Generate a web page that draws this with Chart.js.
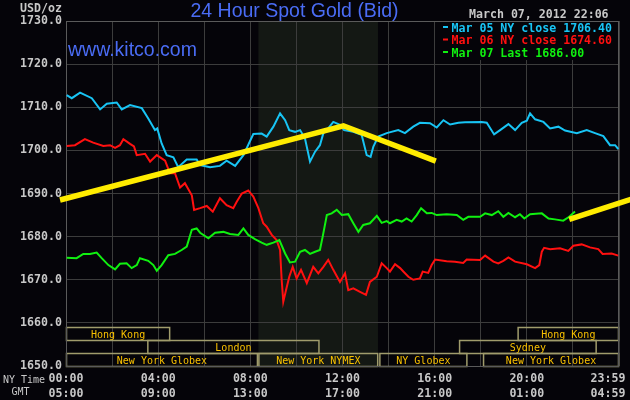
<!DOCTYPE html>
<html>
<head>
<meta charset="utf-8">
<script src="https://cdn.jsdelivr.net/npm/chart.js@4/dist/chart.umd.min.js"></script>
<style>
html,body{margin:0;padding:0;background:#050409;}
canvas{display:block;}
</style>
</head>
<body>
<canvas id="gold" width="630" height="400"></canvas>
<script>
// hours since 00:00 NY time, bid in USD/oz
var mar05Hours=[0.03,0.25,0.61,1.12,1.48,1.77,2.20,2.42,2.78,3.29,3.57,3.86,3.96,4.15,4.37,4.66,4.87,5.24,5.67,5.82,6.25,6.68,6.97,7.34,7.70,8.13,8.49,8.71,9.00,9.29,9.51,9.69,9.94,10.16,10.37,10.59,10.81,11.02,11.17,11.38,11.60,11.89,12.07,12.47,12.83,13.05,13.22,13.34,13.55,13.92,14.42,14.71,15.07,15.36,15.80,16.09,16.38,16.67,17.03,17.32,18.04,18.26,18.58,18.84,19.20,19.49,19.78,20.00,20.14,20.36,20.72,21.01,21.37,21.66,22.17,22.60,22.96,23.32,23.61,23.83,23.97];
var mar05Values=[1712.8,1712.1,1713.4,1712.1,1709.5,1710.8,1711.1,1709.5,1710.5,1709.8,1707.4,1704.7,1705.1,1701.6,1698.9,1698.4,1696.1,1697.9,1697.9,1696.6,1696.1,1696.4,1697.6,1696.4,1698.9,1703.8,1703.9,1703.2,1705.5,1708.6,1707.0,1704.7,1704.3,1704.7,1702.8,1697.4,1699.7,1701.2,1704.0,1705.1,1706.6,1705.9,1704.7,1704.3,1703.6,1698.9,1698.5,1700.9,1703.2,1704.0,1704.7,1704.0,1705.5,1706.4,1706.3,1705.3,1707.0,1706.0,1706.4,1706.5,1706.6,1706.4,1703.7,1704.7,1706.1,1704.7,1706.4,1706.9,1708.6,1707.2,1706.6,1705.1,1705.5,1704.6,1704.0,1704.7,1704.0,1703.3,1701.2,1701.2,1700.3];

var mar06Hours=[0.03,0.39,0.82,1.18,1.62,1.91,2.13,2.34,2.49,2.78,2.95,3.07,3.43,3.65,3.94,4.30,4.51,4.73,4.95,5.16,5.46,5.56,5.82,6.11,6.37,6.68,6.97,7.26,7.41,7.63,7.91,8.13,8.35,8.56,8.71,8.93,9.14,9.29,9.36,9.43,9.55,9.69,9.84,10.01,10.20,10.45,10.73,10.95,11.17,11.38,11.60,11.89,12.11,12.25,12.47,12.76,13.02,13.19,13.49,13.70,13.92,14.06,14.28,14.50,14.64,14.86,15.07,15.36,15.48,15.72,15.87,16.02,16.52,16.88,17.24,17.39,17.97,18.19,18.55,18.76,18.98,19.20,19.49,20.00,20.36,20.54,20.65,20.75,21.01,21.44,21.80,22.02,22.38,22.74,23.10,23.29,23.68,23.97];
var mar06Values=[1701.0,1701.2,1702.6,1701.8,1701.0,1701.2,1700.6,1701.2,1702.6,1701.5,1700.9,1698.9,1699.2,1697.4,1698.9,1697.6,1694.7,1694.7,1691.4,1692.4,1689.6,1686.2,1686.6,1687.1,1685.8,1688.9,1687.3,1686.6,1688.1,1690.0,1690.7,1689.3,1686.6,1683.1,1682.3,1680.4,1679.2,1676.9,1670.0,1664.9,1667.6,1670.7,1673.0,1670.3,1672.3,1669.2,1673.0,1671.5,1673.0,1674.6,1672.3,1669.5,1671.5,1667.6,1668.0,1667.2,1666.5,1669.5,1670.7,1673.8,1672.7,1671.9,1673.6,1672.7,1671.9,1670.7,1670.0,1670.3,1671.9,1671.6,1673.4,1674.7,1674.3,1674.2,1673.9,1674.7,1674.6,1675.6,1674.2,1673.8,1674.4,1675.2,1674.2,1673.6,1672.7,1673.4,1676.5,1677.4,1677.1,1677.3,1676.7,1677.9,1678.2,1677.5,1677.1,1676.0,1676.1,1675.6];

var mar07Hours=[0.03,0.46,0.75,1.04,1.33,1.55,1.84,2.13,2.34,2.63,2.85,3.07,3.21,3.57,3.79,3.94,4.15,4.44,4.73,5.02,5.24,5.46,5.67,5.82,6.18,6.47,6.83,7.12,7.48,7.70,7.91,8.20,8.49,8.71,9.00,9.26,9.51,9.72,9.94,10.16,10.37,10.59,10.81,11.02,11.14,11.32,11.53,11.75,11.97,12.25,12.47,12.69,12.90,13.19,13.49,13.70,13.92,14.06,14.35,14.57,14.78,15.00,15.22,15.41,15.66,15.87,16.09,16.52,16.96,17.24,17.46,17.97,18.19,18.48,18.76,18.98,19.20,19.49,19.70,19.89,20.14,20.65,20.94,21.22,21.58,21.84,22.09];
var mar07Values=[1675.1,1675.0,1676.0,1676.0,1676.3,1675.0,1673.4,1672.4,1673.7,1673.8,1672.7,1673.4,1675.0,1674.4,1673.4,1672.1,1673.4,1675.7,1676.0,1676.9,1677.7,1681.6,1681.9,1680.9,1679.6,1680.9,1681.1,1680.6,1680.4,1681.9,1680.4,1679.4,1678.6,1678.1,1678.6,1679.2,1676.1,1674.0,1674.2,1676.5,1676.9,1676.0,1676.5,1676.9,1680.0,1685.0,1685.4,1686.2,1685.0,1685.2,1683.1,1681.1,1682.7,1683.1,1684.8,1683.2,1683.6,1683.1,1683.9,1683.5,1684.2,1683.5,1685.0,1686.6,1685.4,1685.5,1685.0,1685.2,1685.0,1683.9,1684.6,1684.6,1685.4,1685.0,1685.9,1684.6,1685.5,1684.5,1685.2,1684.2,1685.2,1685.4,1684.2,1684.0,1683.7,1684.6,1685.8];

// hand drawn yellow trend lines
var trendAHours=[-0.26,12.04,16.05];
var trendAValues=[1688.5,1705.7,1697.5];
var trendBHours=[21.84,24.6];
var trendBValues=[1684.0,1688.8];

var legendTexts=["Mar 05 NY close 1706.40","Mar 06 NY close 1674.60","Mar 07 Last 1686.00"];
var tickHours=[0,4,8,12,16,20,24];
var nyTimeLabels=["00:00","04:00","08:00","12:00","16:00","20:00","23:59"];
var gmtLabels=["05:00","09:00","13:00","17:00","21:00","01:00","04:59"];

var sessionNames=["Hong Kong","London","New York Globex","New York NYMEX","NY Globex","Sydney","Hong Kong","New York Globex"];
var sessionStart=[0,3.53,0,8.35,13.6,17.06,19.6,18.1];
var sessionEnd=[4.52,11.0,8.33,13.55,17.42,23.03,24,24];
var sessionRow=[0,1,2,2,2,1,0,2];
var nymexOpen=8.35, nymexClose=13.54;

var cyan="#18c4f4", red="#ff1010", green="#10f010", yellow="#ffec00";
var mono="'DejaVu Sans Mono', monospace";

function pts(h,v){ var a=[]; for(var i=0;i<h.length;i++) a.push({x:h[i],y:v[i]}); return a; }

var kitcoPlugin={
	id:"kitco",
	beforeDraw:function(chart){
		var c=chart.ctx, a=chart.chartArea, x=chart.scales.x;
		c.save();
		c.fillStyle="#050409";
		c.fillRect(0,0,chart.width,chart.height);
		c.fillStyle="#141814";
		c.fillRect(x.getPixelForValue(nymexOpen),a.top,x.getPixelForValue(nymexClose)-x.getPixelForValue(nymexOpen),a.bottom-a.top);
		c.restore();
	},
	beforeDatasetsDraw:function(chart){
		var c=chart.ctx, a=chart.chartArea, x=chart.scales.x;
		c.save();
		// session boxes
		c.strokeStyle="#a09c6c"; c.lineWidth=1.5;
		c.font="10px "+mono; c.textAlign="center"; c.textBaseline="alphabetic";
		for(var i=0;i<sessionNames.length;i++){
			var x0=x.getPixelForValue(sessionStart[i]), x1=x.getPixelForValue(sessionEnd[i]);
			var y0=a.bottom-13*(3-sessionRow[i]);
			c.strokeRect(x0+0.5,y0+0.5,x1-x0-1,13);
			c.fillStyle="#f8c000";
			c.fillText(sessionNames[i],(x0+x1)/2,y0+11);
		}
		// legend box
		c.fillStyle="#050409";
		c.fillRect(438,a.top+1,a.right-439,38);
		var cols=[cyan,red,green];
		c.font="bold 11.6px "+mono; c.textAlign="left";
		for(var j=0;j<3;j++){
			c.fillStyle=cols[j];
			c.fillRect(443,26+j*12.5,5,2);
			c.fillText(legendTexts[j],451.5,31.5+j*12.5);
		}
		// frame
		c.strokeStyle="#5a5a5a"; c.lineWidth=1;
		c.strokeRect(a.left+0.5,a.top+0.5,a.right-a.left-1,a.bottom-a.top);
		c.restore();
	},
	afterDraw:function(chart){
		var c=chart.ctx, x=chart.scales.x;
		c.save();
		c.fillStyle="#4a6cf4";
		c.font="19.5px 'Liberation Sans', Arial, sans-serif";
		c.textAlign="center";
		c.fillText("24 Hour Spot Gold (Bid)",294.5,17);
		c.textAlign="left";
		c.fillText("www.kitco.com",68,56);
		c.fillStyle="#c8c8c8";
		c.font="bold 11.6px "+mono;
		c.fillText("March 07, 2012 22:06",469,18);
		c.textAlign="right";
		c.fillText("USD/oz",62,11.5);
		c.textAlign="center";
		for(var i=0;i<tickHours.length;i++){
			var px=Math.min(x.getPixelForValue(tickHours[i]),608);
			c.fillText(nyTimeLabels[i],px,381.5);
			c.fillText(gmtLabels[i],px,396.5);
		}
		c.font="10px "+mono; c.textAlign="left";
		c.fillText("NY Time",3,383);
		c.fillText("GMT",11.5,395);
		c.restore();
	}
};

new Chart(document.getElementById("gold"),{
	type:"line",
	data:{datasets:[
		{data:pts(trendAHours,trendAValues),borderColor:yellow,borderWidth:5.5,clip:false,order:0},
		{data:pts(trendBHours,trendBValues),borderColor:yellow,borderWidth:5.5,clip:false,order:0},
		{data:pts(mar07Hours,mar07Values),borderColor:green,borderWidth:2,order:1},
		{data:pts(mar06Hours,mar06Values),borderColor:red,borderWidth:2,order:2},
		{data:pts(mar05Hours,mar05Values),borderColor:cyan,borderWidth:2,order:3}
	]},
	options:{
		responsive:false,
		animation:false,
		events:[],
		elements:{point:{radius:0},line:{tension:0,borderCapStyle:"butt"}},
		layout:{autoPadding:false,padding:{left:0,top:21,right:11,bottom:0}},
		plugins:{legend:{display:false},tooltip:{enabled:false}},
		scales:{
			x:{type:"linear",min:0,max:24,
				ticks:{display:false,stepSize:2},
				grid:{color:"#3c3c3c",drawTicks:false},
				border:{display:false},
				afterFit:function(s){s.height=34;}},
			y:{min:1650,max:1730,
				ticks:{stepSize:10,padding:4,color:"#c8c8c8",font:{family:"DejaVu Sans Mono",size:11.6,weight:"bold"},
					callback:function(v){return v.toFixed(1);}},
				grid:{color:"#3c3c3c",drawTicks:false},
				border:{display:false},
				afterFit:function(s){s.width=66;}}
		}
	},
	plugins:[kitcoPlugin]
});
</script>
</body>
</html>
